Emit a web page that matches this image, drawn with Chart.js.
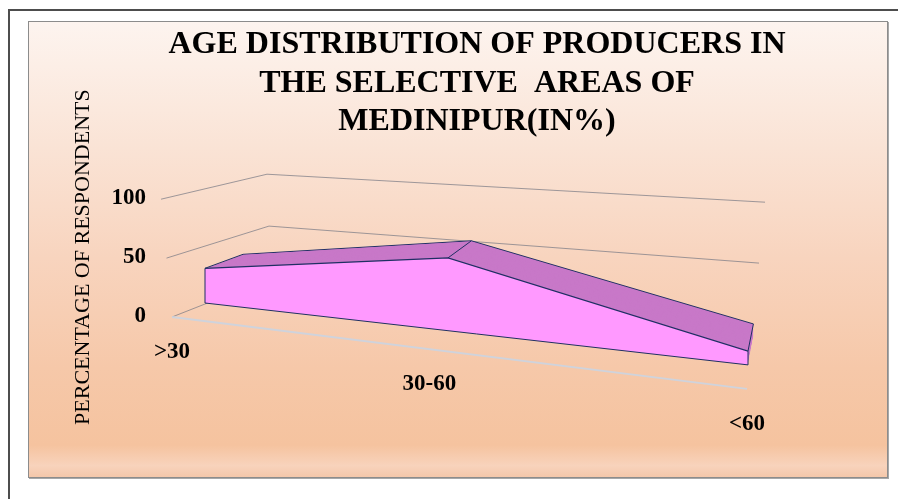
<!DOCTYPE html>
<html>
<head>
<meta charset="utf-8">
<script src="https://cdn.jsdelivr.net/npm/chart.js@4.4.1/dist/chart.umd.min.js"></script>
<style>
  body { margin: 0; width: 898px; height: 499px; overflow: hidden; background: #fff; position: relative; }
  #outer { position: absolute; left: 8px; top: 9px; width: 1000px; height: 600px; border: 2px solid #4d4d4d; box-sizing: border-box; }
  #panel {
    position: absolute; left: 28px; top: 21px; width: 860px; height: 457px; box-sizing: border-box;
    border: 1px solid #8c8c8c; box-shadow: 1px 1px 0 #a8a8a8;
    background: linear-gradient(to bottom, #fdf4ef 0%, #fae3d5 28%, #f8d4be 52%, #f6c8a9 76%, #f5c39f 93%, #f8d3bc 97.5%, #f4c7aa 100%);
  }
  #chart { position: absolute; left: 0; top: 0; }
</style>
</head>
<body>
<div id="outer"></div>
<div id="panel"></div>
<canvas id="chart" width="898" height="499"></canvas>
<script>
const ageGroups = [">30", "30-60", "<60"];
const respondentShare = [28.6, 60, 11.4];
const percentTicks = [0, 50, 100];

const chartTitle = ["AGE DISTRIBUTION OF PRODUCERS IN", "THE SELECTIVE  AREAS OF", "MEDINIPUR(IN%)"];
const yTitle = "PERCENTAGE OF RESPONDENTS";

const FACE_COLOR = "#ff99ff";
const TOP_COLOR = "#c878c8";
const EDGE_COLOR = "#1f2f63";
const GRID_COLOR = "rgba(125,125,135,0.75)";
const FLOOR_COLOR = "#cfd3dc";
const SERIF = "'Liberation Serif', 'Times New Roman', serif";

// fake 3d: front face and back face of the ribbon, layers in between
const DEPTH_LAYERS = 24;
const FRONT = { sx: 1, ox: 0, sy: 1.03, skew: 0.114, oy: -13 };
const BACK = { sx: 0.94, ox: 38, sy: 0.97, skew: 0.092, oy: -29 };
const PERSPECTIVE = 0.81;

class PerspectiveCategory extends Chart.CategoryScale {
  getPixelForDecimal(t) {
    return super.getPixelForDecimal(PERSPECTIVE * t / (1 + (PERSPECTIVE - 1) * t));
  }
}
PerspectiveCategory.id = "perspectiveCategory";
PerspectiveCategory.defaults = Chart.CategoryScale.defaults;
Chart.register(PerspectiveCategory);

function viewAt(t) {
  const v = {};
  Object.keys(FRONT).forEach((k) => { v[k] = FRONT[k] + (BACK[k] - FRONT[k]) * t; });
  return v;
}

function project(view, area, x, y) {
  return {
    x: area.left + view.ox + view.sx * (x - area.left),
    y: area.bottom + view.oy + view.sy * (y - area.bottom) + view.skew * (x - area.left)
  };
}

function applyView(chart, index) {
  const area = chart.chartArea;
  const view = viewAt(chart.data.datasets[index].depth);
  const ctx = chart.ctx;
  ctx.save();
  ctx.transform(view.sx, view.skew, 0, view.sy,
    area.left + view.ox - view.sx * area.left,
    area.bottom + view.oy - view.sy * area.bottom - view.skew * area.left);
}

function drawSequence(chart) {
  return chart.getSortedVisibleDatasetMetas().map((m) => m.index).reverse();
}

function floorY(area, x) {
  return area.bottom + 1 + 0.125 * (x - (area.left - 33));
}

function drawWalls(chart) {
  const ctx = chart.ctx;
  const y = chart.scales.y;
  const { left, right, bottom } = chart.chartArea;
  ctx.save();
  ctx.strokeStyle = GRID_COLOR;
  ctx.lineWidth = 1;
  y.ticks.forEach((tick) => {
    const p = y.getPixelForValue(tick.value);
    const dp = bottom - p;
    ctx.beginPath();
    ctx.moveTo(left - 33 - 0.093 * dp, p + 1);
    ctx.lineTo(left + 66 - 0.034 * dp, bottom - 38 - 0.881 * dp);
    ctx.lineTo(right + 5 + 0.102 * dp, bottom + 8 - 1.034 * dp);
    ctx.stroke();
  });
  ctx.strokeStyle = FLOOR_COLOR;
  ctx.lineWidth = 2;
  ctx.beginPath();
  ctx.moveTo(left - 33, floorY(chart.chartArea, left - 33));
  ctx.lineTo(right - 1, floorY(chart.chartArea, right - 1));
  ctx.stroke();
  ctx.restore();
}

function drawEdges(chart) {
  const ctx = chart.ctx;
  const area = chart.chartArea;
  const base = chart.scales.y.getPixelForValue(0);
  const pts = chart.getDatasetMeta(0).data;
  const fv = viewAt(0), bv = viewAt(1);
  ctx.save();
  ctx.strokeStyle = EDGE_COLOR;
  ctx.lineWidth = 1;
  ctx.lineJoin = "round";
  pts.forEach((pt) => {
    const a = project(fv, area, pt.x, pt.y);
    const b = project(bv, area, pt.x, pt.y);
    ctx.beginPath();
    ctx.moveTo(a.x, a.y);
    ctx.lineTo(b.x, b.y);
    ctx.stroke();
  });
  const first = pts[0], last = pts[pts.length - 1];
  const p1 = project(fv, area, first.x, first.y);
  const p2 = project(fv, area, first.x, base);
  const p3 = project(fv, area, last.x, base);
  const p4 = project(fv, area, last.x, last.y);
  ctx.beginPath();
  ctx.moveTo(p1.x, p1.y);
  ctx.lineTo(p2.x, p2.y);
  ctx.lineTo(p3.x, p3.y);
  ctx.lineTo(p4.x, p4.y);
  ctx.stroke();
  ctx.restore();
}

function drawCategoryLabels(chart) {
  const ctx = chart.ctx;
  const area = chart.chartArea;
  const xs = chart.scales.x;
  const x0 = area.left - 33, x1 = area.right - 1;
  ctx.save();
  ctx.font = "bold 23px " + SERIF;
  ctx.fillStyle = "#000";
  ctx.textAlign = "center";
  ctx.textBaseline = "middle";
  xs.ticks.forEach((tick, i) => {
    const t = (xs.getPixelForTick(i) - area.left) / (area.right - area.left);
    const lx = x0 + t * (x1 - x0);
    ctx.fillText(xs.getLabelForValue(tick.value), lx, floorY(area, lx) + 35);
  });
  ctx.restore();
}

const solidPlugin = {
  id: "solid",
  beforeDatasetsDraw(chart) {
    drawWalls(chart);
    const seq = drawSequence(chart);
    if (seq.length) applyView(chart, seq[0]);
  },
  afterDatasetDraw(chart, args) {
    chart.ctx.restore();
    const seq = drawSequence(chart);
    const pos = seq.indexOf(args.index);
    if (pos >= 0 && pos + 1 < seq.length) applyView(chart, seq[pos + 1]);
  },
  afterDatasetsDraw(chart) {
    drawEdges(chart);
  },
  afterDraw(chart) {
    drawCategoryLabels(chart);
  }
};

const datasets = [{
  label: "front",
  data: respondentShare,
  depth: 0,
  fill: "origin",
  backgroundColor: FACE_COLOR,
  borderColor: EDGE_COLOR,
  borderWidth: 1.2,
  pointRadius: 0,
  clip: false
}];
for (let k = 1; k <= DEPTH_LAYERS; k++) {
  datasets.push({
    label: "depth" + k,
    data: respondentShare,
    depth: k / DEPTH_LAYERS,
    fill: "origin",
    backgroundColor: TOP_COLOR,
    borderColor: k === DEPTH_LAYERS ? EDGE_COLOR : "rgba(0,0,0,0)",
    borderWidth: 1,
    pointRadius: 0,
    clip: false
  });
}

new Chart(document.getElementById("chart"), {
  type: "line",
  data: { labels: ageGroups, datasets: datasets },
  plugins: [solidPlugin],
  options: {
    responsive: false,
    animation: false,
    layout: { padding: { top: 26, left: 70, right: 14, bottom: 183 } },
    plugins: {
      legend: { display: false },
      tooltip: { enabled: false },
      title: {
        display: true,
        text: chartTitle,
        fullSize: true,
        color: "#000",
        font: { family: SERIF, size: 32, weight: "bold", lineHeight: 1.2 },
        padding: { top: 0, bottom: 57 }
      }
    },
    scales: {
      x: { type: "perspectiveCategory", display: false, offset: false },
      y: {
        min: 0,
        max: 100,
        afterBuildTicks: (scale) => { scale.ticks = percentTicks.map((v) => ({ value: v })); },
        afterFit: (scale) => { scale.width = 135; },
        grid: { display: false, drawTicks: false },
        border: { display: false },
        ticks: { color: "#000", padding: 59, font: { family: SERIF, size: 23, weight: "bold" } },
        title: { display: true, text: yTitle, color: "#000", padding: 0, font: { family: SERIF, size: 22 } }
      },
      yRight: {
        position: "right",
        afterFit: (scale) => { scale.width = 136; },
        grid: { display: false, drawTicks: false },
        border: { display: false },
        ticks: { display: false }
      }
    }
  }
});
</script>
</body>
</html>
